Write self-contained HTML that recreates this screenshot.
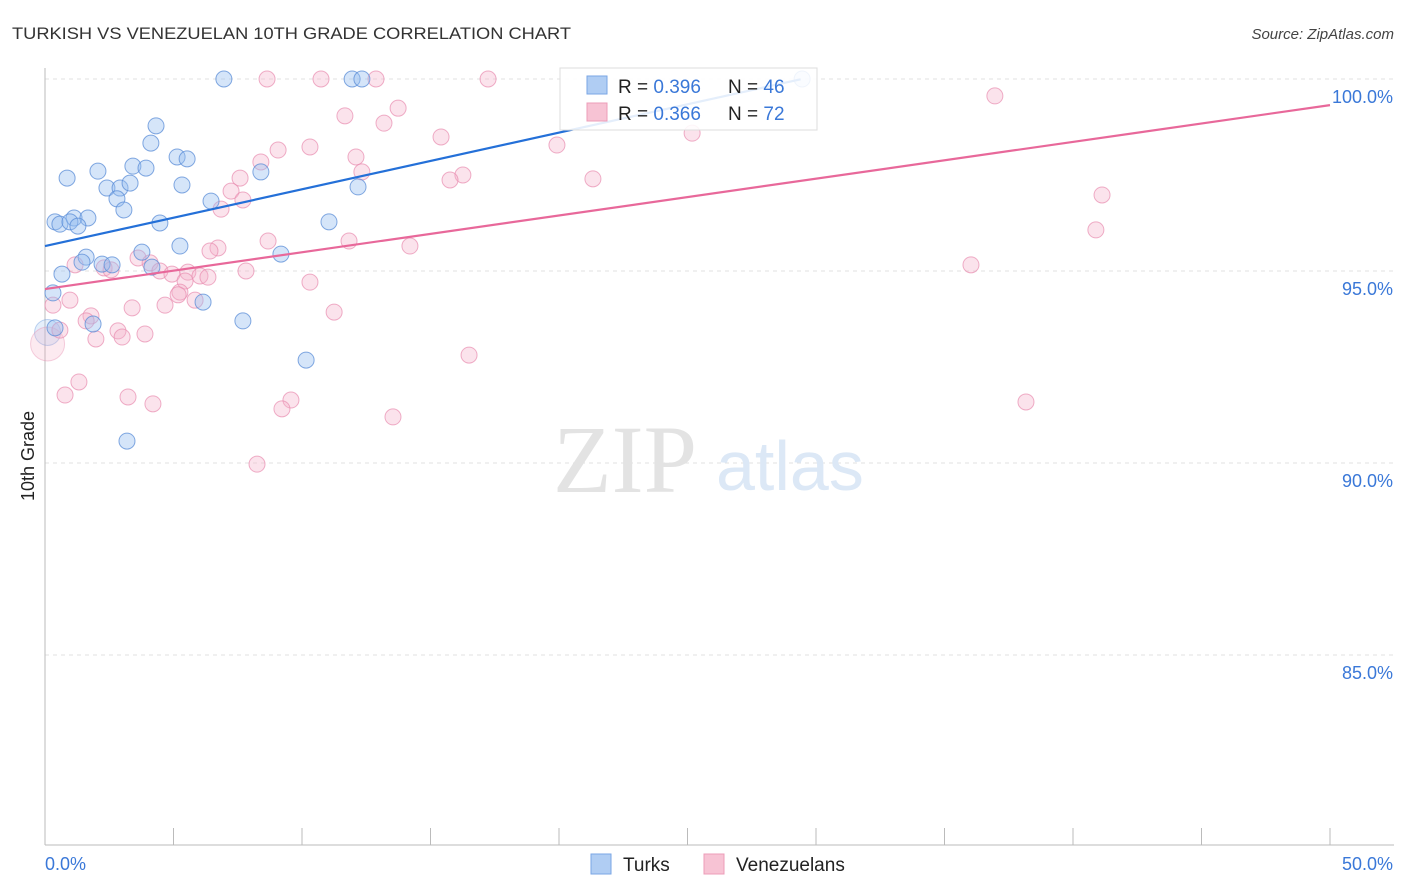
<!DOCTYPE html>
<html><head><meta charset="utf-8">
<style>
body{margin:0;background:#fff;font-family:"Liberation Sans",sans-serif;}
#wrap{position:relative;width:1406px;height:892px;overflow:hidden;}
</style></head>
<body>
<div id="wrap">
<svg id="chart" width="1406" height="892"></svg>
</div>
<script>
const blueX=[6.96,11.95,12.33,29.46,4.32,4.12,5.14,5.53,2.06,3.42,3.93,0.86,5.33,2.41,2.92,3.31,12.18,8.40,2.80,6.46,3.07,0.39,0.58,1.13,1.67,0.97,1.28,4.47,11.05,5.25,3.77,1.60,1.44,2.22,2.61,4.16,9.18,0.66,0.31,6.15,7.70,1.87,0.39,10.16,3.19];
const blueY=[100,100,100,100,98.78,98.33,97.97,97.92,97.60,97.73,97.68,97.42,97.24,97.16,97.16,97.29,97.19,97.58,96.88,96.82,96.59,96.28,96.22,96.38,96.38,96.28,96.17,96.25,96.28,95.65,95.49,95.36,95.23,95.18,95.16,95.10,95.44,94.92,94.43,94.19,93.70,93.62,93.52,92.68,90.57];
const pinkX=[8.64,10.74,12.88,17.24,36.96,13.74,11.67,13.19,15.41,19.92,25.18,9.07,10.31,12.10,8.40,12.33,7.59,7.24,7.70,16.26,15.76,21.32,41.13,6.85,40.89,8.68,11.83,14.20,6.73,6.42,3.62,4.09,1.17,2.30,4.47,2.57,7.82,4.94,5.56,6.03,6.34,5.45,10.31,5.25,5.18,5.84,4.67,3.39,0.31,0.97,36.03,1.79,1.60,11.25,2.84,3.89,3.00,1.98,16.50,1.32,0.78,3.23,4.20,9.57,9.22,13.54,38.17,8.25,0.58];
const pinkY=[100,100,100,100,99.56,99.24,99.04,98.85,98.49,98.28,98.59,98.15,98.23,97.97,97.84,97.58,97.42,97.08,96.85,97.50,97.37,97.40,96.98,96.61,96.07,95.78,95.78,95.65,95.60,95.52,95.34,95.21,95.16,95.08,95.00,95.03,95.00,94.92,94.97,94.87,94.84,94.74,94.71,94.45,94.38,94.24,94.11,94.04,94.11,94.24,95.16,93.83,93.70,93.93,93.44,93.36,93.28,93.23,92.81,92.11,91.77,91.72,91.54,91.64,91.41,91.20,91.59,89.97,93.46];
const bigBlue=[0.1,93.4], bigPink=[0.1,93.1];
const blueLine=[95.65,0.1477], pinkLine=[94.53,0.0958];
const yTicks=[100,95,90,85];
const yTickLabels=["100.0%","95.0%","90.0%","85.0%"];
const xTicks=[0,5,10,15,20,25,30,35,40,45,50];

const svg=document.getElementById('chart');
const NS="http://www.w3.org/2000/svg";
const X=v=>45+v*25.7, Y=v=>79+(100-v)*38.4;
function mk(t,a,txt){const e=document.createElementNS(NS,t);for(const k in a)e.setAttribute(k,a[k]);if(txt!==undefined)e.textContent=txt;svg.appendChild(e);return e;}

let t=mk('text',{x:12,y:39,'font-size':17,fill:'#333',textLength:559,lengthAdjust:'spacingAndGlyphs'},'TURKISH VS VENEZUELAN 10TH GRADE CORRELATION CHART');

t=mk('text',{x:1394,y:39,'font-size':15,fill:'#444','font-style':'italic','text-anchor':'end'},'Source: ZipAtlas.com');


yTicks.forEach((v,i)=>{
 const g=mk('line',{x1:45,x2:1394,y1:Y(v),y2:Y(v),stroke:'#e2e2e2','stroke-dasharray':'4,4'});
 
 const l=mk('text',{x:1393,y:Y(v)+24,'font-size':18,fill:'#3a78d8','text-anchor':'end'},yTickLabels[i]);
 
});
let ax=mk('line',{x1:45,x2:45,y1:68,y2:845,stroke:'#bbb'});

ax=mk('line',{x1:45,x2:1394,y1:845,y2:845,stroke:'#bbb'});

xTicks.forEach(v=>{const k=mk('line',{x1:X(v),x2:X(v),y1:828,y2:845,stroke:'#bbb'});
 });
t=mk('text',{x:45,y:870,'font-size':18,fill:'#3a78d8'},'0.0%');

t=mk('text',{x:1393,y:870,'font-size':18,fill:'#3a78d8','text-anchor':'end'},'50.0%');

t=mk('text',{x:34,y:456,'font-size':18,fill:'#222','text-anchor':'middle',transform:'rotate(-90 34 456)'},'10th Grade');


t=mk('text',{x:553,y:492,'font-size':96,fill:'#e3e3e3','font-family':'Liberation Serif,serif'},'ZIP');

t=mk('text',{x:716,y:490,'font-size':70,fill:'#dce8f6'},'atlas');


let c=mk('circle',{cx:X(bigBlue[0]),cy:Y(bigBlue[1]),r:13,fill:'rgba(150,190,240,0.25)',stroke:'rgba(100,150,220,0.4)'});

c=mk('circle',{cx:X(bigPink[0]),cy:Y(bigPink[1]),r:17,fill:'rgba(244,170,196,0.25)',stroke:'rgba(230,140,175,0.4)'});


pinkX.forEach((x,i)=>{const p=mk('circle',{cx:X(x),cy:Y(pinkY[i]),r:8,fill:'rgba(244,175,200,0.35)',stroke:'rgba(232,140,175,0.7)','stroke-width':1});
 });
blueX.forEach((x,i)=>{const p=mk('circle',{cx:X(x),cy:Y(blueY[i]),r:8,fill:'rgba(150,190,240,0.4)',stroke:'rgba(90,140,215,0.75)','stroke-width':1});
 });

let ln=mk('line',{x1:X(0),y1:Y(pinkLine[0]),x2:X(50),y2:Y(pinkLine[0]+pinkLine[1]*50),stroke:'#e8689a','stroke-width':2.2});

const bx=29.4;
ln=mk('line',{x1:X(0),y1:Y(blueLine[0]),x2:X(bx),y2:Y(blueLine[0]+blueLine[1]*bx),stroke:'#2470d8','stroke-width':2.2});


let r=mk('rect',{x:560,y:68,width:257,height:62,fill:'rgba(255,255,255,0.88)',stroke:'#ddd'});

r=mk('rect',{x:587,y:76,width:20,height:18,fill:'#b0cdf3',stroke:'#7aa6e4'});

r=mk('rect',{x:587,y:103,width:20,height:18,fill:'#f7c3d4',stroke:'#ec9cb8'});

function legRow(y,R,N,nm){
 const a=mk('text',{x:618,y:y,'font-size':19,fill:'#222'});a.innerHTML='R = <tspan fill="#3a78d8">'+R+'</tspan>';
 
 const b=mk('text',{x:728,y:y,'font-size':19,fill:'#222'});b.innerHTML='N = <tspan fill="#3a78d8">'+N+'</tspan>';
 
}
legRow(93,'0.396','46','turks');legRow(120,'0.366','72','venezuelans');

r=mk('rect',{x:591,y:854,width:20,height:20,fill:'#b0cdf3',stroke:'#7aa6e4'});

t=mk('text',{x:623,y:871,'font-size':19,fill:'#222'},'Turks');

r=mk('rect',{x:704,y:854,width:20,height:20,fill:'#f7c3d4',stroke:'#ec9cb8'});

t=mk('text',{x:736,y:871,'font-size':19,fill:'#222'},'Venezuelans');

</script>
</body></html>
